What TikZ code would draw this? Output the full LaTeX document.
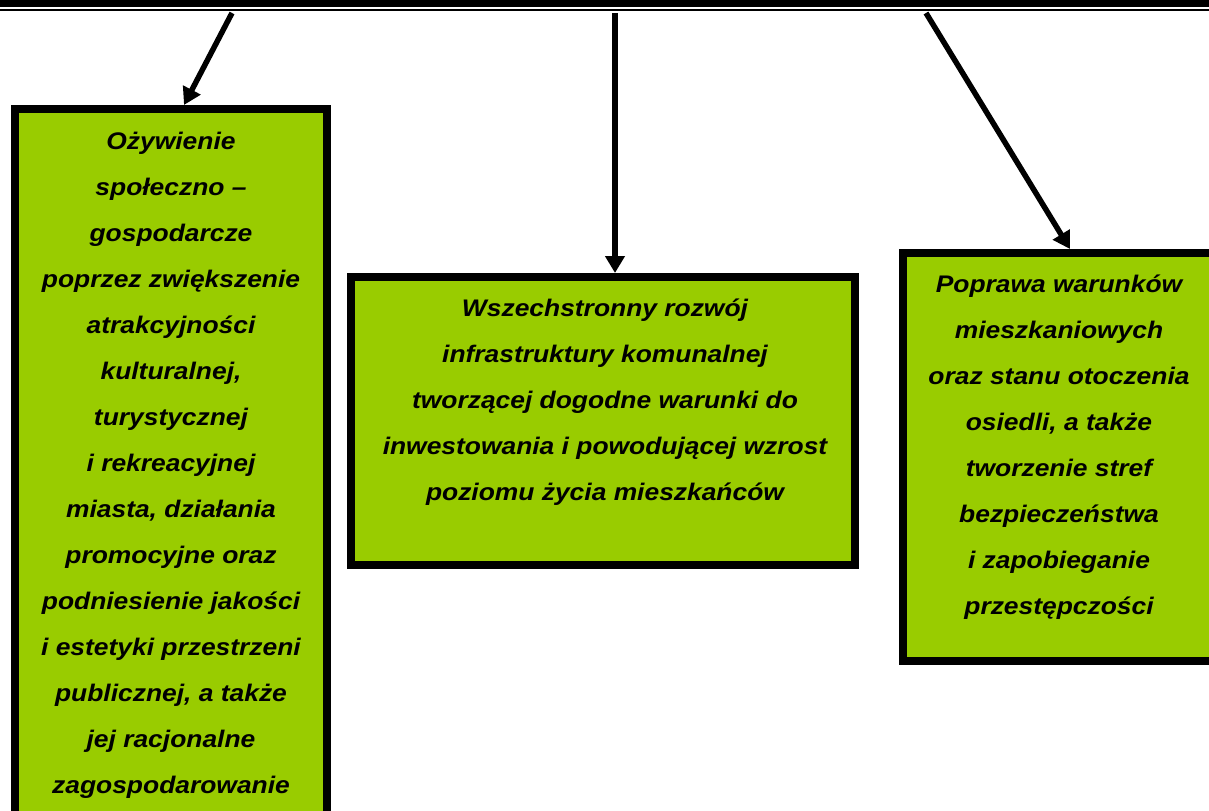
\documentclass[tikz,border=0pt]{standalone}
\usepackage{fontspec}
\setmainfont{Liberation Sans}[FakeStretch=1.1]
\usetikzlibrary{arrows.meta,calc}
\definecolor{boxgreen}{HTML}{99CC00}
\tikzset{
  greenbox/.style={draw=black, fill=boxgreen, line width=8bp, rectangle, inner sep=0pt, outer sep=4bp},
  boxtext/.style={align=center, inner sep=0pt, font=\fontsize{24bp}{46bp}\selectfont\bfseries\itshape},
  arr/.style={line width=5.5bp, -{Triangle[length=17bp,width=19bp]}},
}
\begin{document}
\begin{tikzpicture}[x=1bp,y=-1bp]
\useasboundingbox (0,0) rectangle (1209,811);
\clip (0,0) rectangle (1209,811);
% header rules
\draw[line width=7.5bp] (0,3.5) -- (1209,3.5);
\draw[line width=2.5bp] (0,10) -- (1209,10);
% boxes (path centre lines)
\node[greenbox, minimum width=312bp, minimum height=752bp, anchor=north west] (L) at (11,105) {};
\node[greenbox, minimum width=504bp, minimum height=288bp, anchor=north west] (M) at (347,273) {};
\node[greenbox, minimum width=400bp, minimum height=408bp, anchor=north west] (R) at (899,249) {};
% texts
\node[boxtext] (Lt) at (171,465) {Ożywienie\\społeczno –\\gospodarcze\\poprzez zwiększenie\\atrakcyjności\\kulturalnej,\\turystycznej\\i rekreacyjnej\\miasta, działania\\promocyjne oraz\\podniesienie jakości\\i estetyki przestrzeni\\publicznej, a także\\jej racjonalne\\zagospodarowanie};
\node[boxtext] (Mt) at (605,402) {Wszechstronny rozwój\\infrastruktury komunalnej\\tworzącej dogodne warunki do\\inwestowania i powodującej wzrost\\poziomu życia mieszkańców};
\node[boxtext] (Rt) at (1059,447) {Poprawa warunków\\mieszkaniowych\\oraz stanu otoczenia\\osiedli, a także\\tworzenie stref\\bezpieczeństwa\\i zapobieganie\\przestępczości};
% arrows
\coordinate (s1) at (232,13);
\coordinate (e1) at (184,0);
\coordinate (s2) at (615,13);
\coordinate (s3) at (926,13);
\coordinate (e3) at (1070,0);
\draw[arr] (s1) -- (e1 |- L.north);
\draw[arr] (s2) -- (s2 |- M.north);
\draw[arr] (s3) -- (e3 |- R.north);
\end{tikzpicture}
\end{document}
